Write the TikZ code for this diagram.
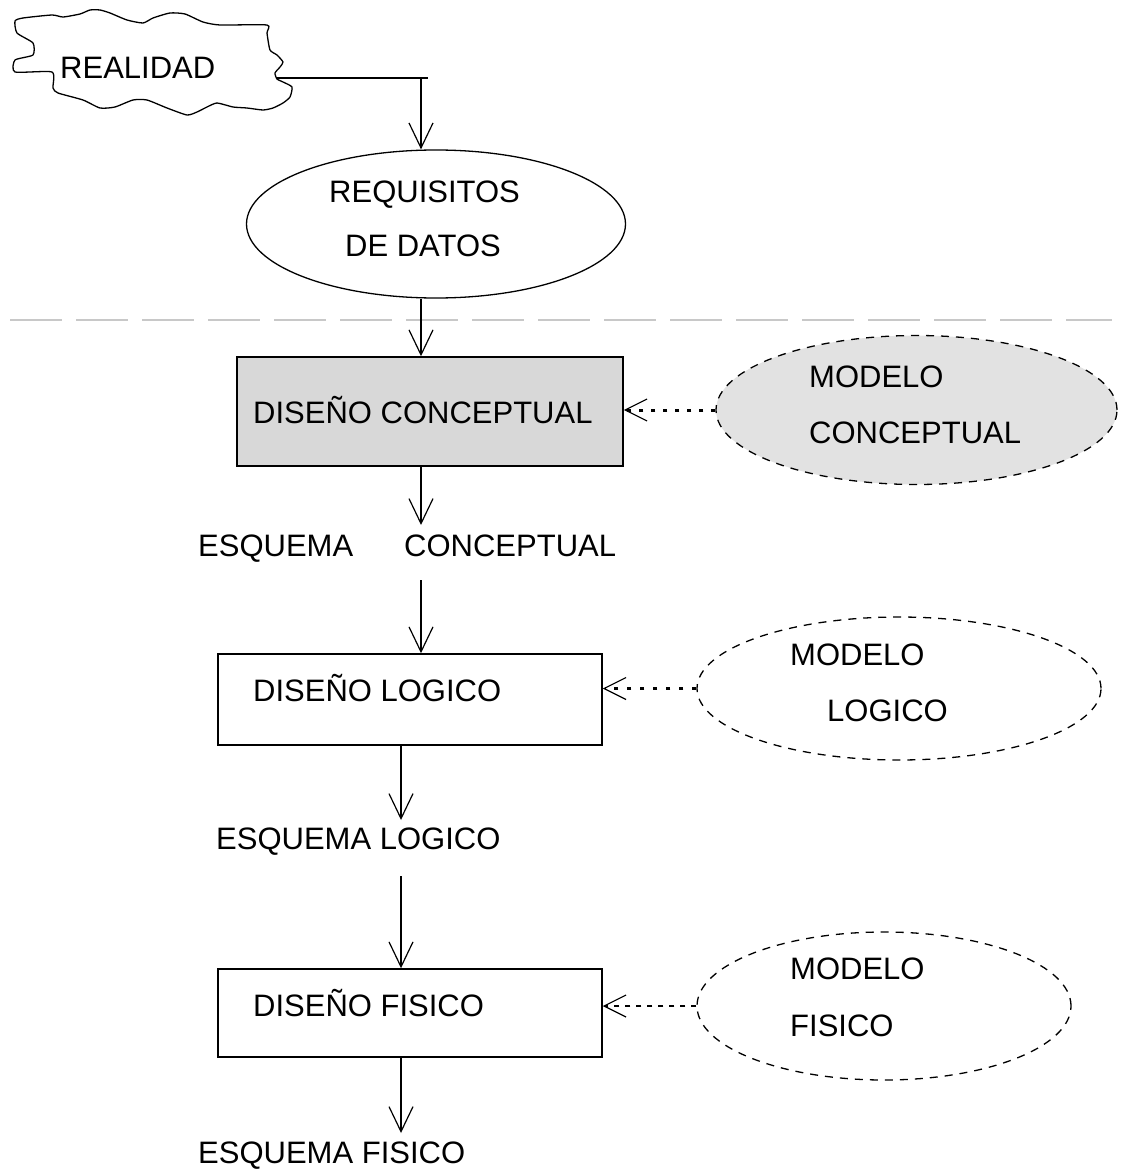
\documentclass[tikz,border=0pt]{standalone}
\usepackage{fontspec}
\setmainfont{Liberation Sans}
\usetikzlibrary{arrows.meta,shapes.geometric}
\definecolor{boxgray}{RGB}{216,216,216}
\definecolor{modelgray}{RGB}{226,226,226}
\definecolor{sepgray}{RGB}{200,200,200}
\begin{document}
\begin{tikzpicture}[x=1pt,y=-1pt,
  lbl/.style={inner sep=0pt, anchor=west, text height=22pt, text depth=0pt,
              font=\fontsize{31}{36}\selectfont},
  flow/.style={line width=1.3pt, -{Straight Barb[length=25pt,width=24pt,line width=1.2pt]}},
  link/.style={-{Straight Barb[length=22pt,width=22pt,line width=1.2pt]}},
  stage/.style={draw, line width=1.5pt, rectangle, inner sep=0pt},
  model/.style={draw, ellipse, dash pattern=on 8pt off 7pt, line width=1.3pt, inner sep=0pt},
]
\useasboundingbox (0,0) rectangle (1123,1169);

% irregular cloud around REALIDAD
\draw[line width=1.3pt] plot[smooth cycle, tension=0.35] coordinates {
  (15,21) (23,18) (52,15) (63,17) (80,14) (90,10) (100,10) (110,13) (127,20)
  (143,23) (153,18) (170,13) (185,14) (203,22) (220,25) (267,25) (267,33)
  (270,50) (277,55) (283,62) (280,67) (275,73) (277,79) (283,82) (292,87)
  (290,97) (283,103) (273,108) (263,110) (247,108) (233,107) (217,103)
  (207,107) (197,112) (187,115) (167,108) (147,100) (133,100) (115,107)
  (100,108) (83,100) (58,93) (53,88) (52,72) (15,72) (15,60) (33,55)
  (33,43) (17,33)};
\node[lbl] (real) at (60,68) {REALIDAD};
\coordinate (cl) at (277,78);
\coordinate (corner) at (428,78);
\coordinate (turn) at (421,78);

% requirements
\node[draw, ellipse, line width=1.3pt, minimum width=379pt, minimum height=148pt, inner sep=0pt]
  (req) at (436,224) {};
\node[lbl] (reqa) at (329,192) {REQUISITOS};
\node[lbl] (reqb) at (345,245) {DE DATOS};

% separator
\draw[sepgray, line width=1.5pt, dash pattern=on 52pt off 14pt] (10,320) -- (1112,320);

% spines of the flow
\coordinate (sp1) at (421,0);
\coordinate (sp2) at (401,0);

% stages
\node[stage, fill=boxgray, minimum width=386pt, minimum height=109pt] (conc) at (430,411.5) {};
\node[lbl] (concl) at (253,412) {DISEÑO CONCEPTUAL};
\node[stage, minimum width=384pt, minimum height=91pt] (log) at (410,699.5) {};
\node[lbl] (logl) at (253,690) {DISEÑO LOGICO};
\node[stage, minimum width=384pt, minimum height=88pt] (fis) at (410,1013) {};
\node[lbl] (fisl) at (253,1005) {DISEÑO FISICO};

% models
\node[model, fill=modelgray, minimum width=401pt, minimum height=149pt] (mc) at (916.5,410) {};
\node[lbl] (mca) at (809,376) {MODELO};
\node[lbl] (mcb) at (809,432) {CONCEPTUAL};
\node[model, minimum width=404pt, minimum height=143pt] (ml) at (899,688.5) {};
\node[lbl] (mla) at (790,654) {MODELO};
\node[lbl] (mlb) at (827,710) {LOGICO};
\node[model, minimum width=374pt, minimum height=148pt] (mf) at (884,1006) {};
\node[lbl] (mfa) at (790,968) {MODELO};
\node[lbl] (mfb) at (790,1025) {FISICO};

% schemas
\node[lbl] (esqa) at (198,545) {ESQUEMA};
\node[lbl] (esqb) at (404,545) {CONCEPTUAL};
\node[lbl] (esql) at (216,838) {ESQUEMA LOGICO};
\node[lbl] (esqf) at (198,1152) {ESQUEMA FISICO};
\coordinate (t1) at (421,525);
\coordinate (s1) at (421,580);
\coordinate (t2) at (401,820);
\coordinate (s2) at (401,876);
\coordinate (t3) at (401,1133);

% flow connectors
\draw[line width=1.3pt] (cl) -- (corner);
\draw[flow] (turn) -- (req.north -| turn);
\draw[flow] (req.south -| sp1) -- (conc.north -| sp1);
\draw[flow] (conc.south -| sp1) -- (t1);
\draw[flow] (s1) -- (log.north -| sp1);
\draw[flow] (log.south -| sp2) -- (t2);
\draw[flow] (s2) -- (fis.north -| sp2);
\draw[flow] (fis.south -| sp2) -- (t3);

% model links
\draw[link, line width=3pt, dash pattern=on 4pt off 8pt] (mc.west) -- (conc.east |- mc.west);
\draw[link, line width=2.6pt, dash pattern=on 4pt off 9pt] (ml.west) -- (log.east |- ml.west);
\draw[link, line width=1.4pt, dash pattern=on 5pt off 6pt] (mf.west) -- (fis.east |- mf.west);
\end{tikzpicture}
\end{document}
